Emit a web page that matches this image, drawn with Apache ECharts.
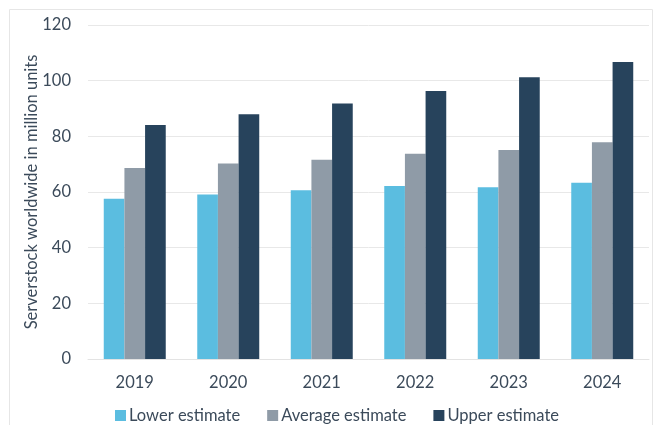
<!DOCTYPE html>
<html><head><meta charset="utf-8">
<script src="https://cdn.jsdelivr.net/npm/echarts@6/dist/echarts.min.js"></script>
<style>html,body{margin:0;padding:0;background:#fff}#c{width:655px;height:425px}</style>
</head><body><div id="c"></div>
<script>
const categories = ['2019','2020','2021','2022','2023','2024'];
const lowerEstimate = [57.6, 59.1, 60.6, 62.2, 61.7, 63.3];
const averageEstimate = [68.6, 70.2, 71.6, 73.7, 75.1, 77.9];
const upperEstimate = [84.1, 87.9, 91.8, 96.3, 101.2, 106.7];
const seriesNames = ['Lower estimate', 'Average estimate', 'Upper estimate'];
const yTicks = {min: 0, max: 120, interval: 20};
const yAxisTitle = 'Serverstock worldwide in million units';

const textColor = '#3b4a5a';
const font = 'Lato';
const chart = echarts.init(document.getElementById('c'), null, {renderer: 'canvas'});
const mk = (name, data, color) => ({
  name, type: 'bar', data, barGap: '0%', barCategoryGap: '33.7%',
  itemStyle: {color}
});
chart.setOption({
  animation: false,
  backgroundColor: '#fff',
  graphic: [{type: 'rect', shape: {x: 9.5, y: 9.5, width: 643, height: 430}, style: {fill: 'none', stroke: '#e6e6e6', lineWidth: 1}, silent: true}],
  grid: {left: 88, right: 6, top: 25, bottom: 66, containLabel: false},
  legend: {
    left: 110, top: 402, itemWidth: 11, itemHeight: 11, itemGap: 27,
    icon: 'rect',
    textStyle: {color: textColor, fontSize: 16.5, fontFamily: font, padding: [0,0,0,-2]},
    data: seriesNames
  },
  xAxis: {
    type: 'category', data: categories,
    axisLine: {lineStyle: {color: '#e3e3e3'}},
    axisTick: {show: false},
    axisLabel: {color: textColor, fontSize: 16.5, fontFamily: font, margin: 15}
  },
  yAxis: {
    type: 'value', min: yTicks.min, max: yTicks.max, interval: yTicks.interval,
    name: yAxisTitle, nameLocation: 'middle', nameGap: 48, nameRotate: 90,
    nameMoveOverlap: false,
    nameTextStyle: {color: textColor, fontSize: 16.5, fontFamily: font},
    axisLine: {show: false}, axisTick: {show: false},
    splitLine: {lineStyle: {color: '#e8e8e8'}},
    axisLabel: {color: textColor, fontSize: 16.5, fontFamily: font, margin: 17}
  },
  series: [
    mk(seriesNames[0], lowerEstimate, '#5bbde0'),
    mk(seriesNames[1], averageEstimate, '#8f9ba7'),
    mk(seriesNames[2], upperEstimate, '#27435c')
  ]
});
</script></body></html>
